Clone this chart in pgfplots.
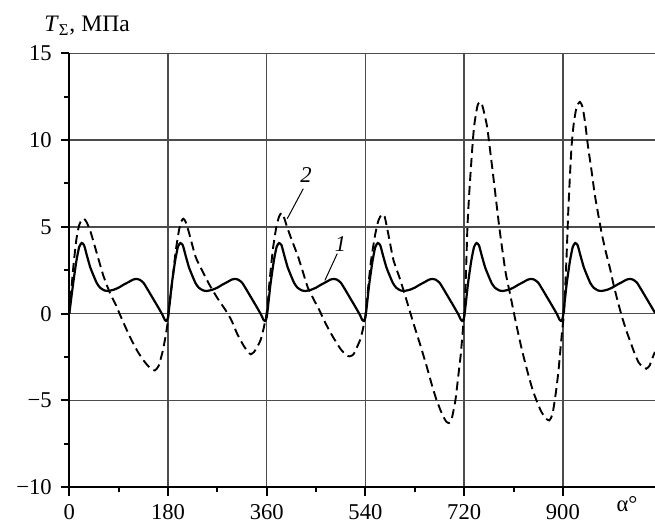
\documentclass[border=0pt]{standalone}
\usepackage{fontspec}
\setmainfont{Liberation Serif}
\usepackage{pgfplots}
\pgfplotsset{compat=1.18}

\begin{document}
\begin{tikzpicture}
\begin{axis}[
    scale only axis,
    width=292.85pt, height=217pt,
    xmin=0, xmax=1068, ymin=-10, ymax=15,
    axis x line=bottom, axis y line=left,
    axis line style={-, line width=1pt, black},
    xtick={0,180,...,900},
    ytick={-10,-5,0,5,10,15},
    yticklabels={−10,−5,0,5,10,15},
    minor x tick num=1, minor y tick num=1,
    tick align=outside,
    major tick length=4.3pt, minor tick length=2.6pt,
    every tick/.style={black, line width=1pt},
    grid=major,
    major grid style={black!70, line width=0.75pt},
    /pgf/number format/assume math mode=true,
    every tick label/.append style={font=\fontsize{11.3}{13}\selectfont},
    yticklabel style={xshift=-1pt},
    xticklabel style={yshift=-1pt},
    extra x ticks={1017},
    extra x tick labels={α°},
    extra x tick style={grid=none, major tick length=0pt},
    clip=true,
]

% curve 1 (solid)
\addplot[black, line width=1.1pt, smooth, tension=0.35] coordinates {
(0,0) (7,1.73) (13,3.05) (18,3.84) (22.5,4.07) (27,3.94) (32,3.36) (38,2.69) (44,2.21) (50,1.77) (56,1.50) (64,1.34) (71,1.31) (81,1.38) (90,1.50) (99,1.67) (108,1.82) (116,1.96) (122,2.0) (128,1.96) (135,1.79) (142,1.44) (151,0.96) (160,0.48) (169.5,-0.04) (174,-0.35) (177.5,-0.42)
(180,-0.2) (182,0.3) (187,1.73) (193,3.05) (198,3.84) (202.5,4.07) (207,3.94) (212,3.36) (218,2.69) (224,2.21) (230,1.77) (236,1.50) (244,1.34) (251,1.31) (261,1.38) (270,1.50) (279,1.67) (288,1.82) (296,1.96) (302,2.0) (308,1.96) (315,1.79) (322,1.44) (331,0.96) (340,0.48) (349.5,-0.04) (354,-0.35) (357.5,-0.42)
(360,-0.2) (362,0.3) (367,1.73) (373,3.05) (378,3.84) (382.5,4.07) (387,3.94) (392,3.36) (398,2.69) (404,2.21) (410,1.77) (416,1.50) (424,1.34) (431,1.31) (441,1.38) (450,1.50) (459,1.67) (468,1.82) (476,1.96) (482,2.0) (488,1.96) (495,1.79) (502,1.44) (511,0.96) (520,0.48) (529.5,-0.04) (534,-0.35) (537.5,-0.42)
(540,-0.2) (542,0.3) (547,1.73) (553,3.05) (558,3.84) (562.5,4.07) (567,3.94) (572,3.36) (578,2.69) (584,2.21) (590,1.77) (596,1.50) (604,1.34) (611,1.31) (621,1.38) (630,1.50) (639,1.67) (648,1.82) (656,1.96) (662,2.0) (668,1.96) (675,1.79) (682,1.44) (691,0.96) (700,0.48) (709.5,-0.04) (714,-0.35) (717.5,-0.42)
(720,-0.2) (722,0.3) (727,1.73) (733,3.05) (738,3.84) (742.5,4.07) (747,3.94) (752,3.36) (758,2.69) (764,2.21) (770,1.77) (776,1.50) (784,1.34) (791,1.31) (801,1.38) (810,1.50) (819,1.67) (828,1.82) (836,1.96) (842,2.0) (848,1.96) (855,1.79) (862,1.44) (871,0.96) (880,0.48) (889.5,-0.04) (894,-0.35) (897.5,-0.42)
(900,-0.2) (902,0.3) (907,1.73) (913,3.05) (918,3.84) (922.5,4.07) (927,3.94) (932,3.36) (938,2.69) (944,2.21) (950,1.77) (956,1.50) (964,1.34) (971,1.31) (981,1.38) (990,1.50) (999,1.67) (1008,1.82) (1016,1.96) (1022,2.0) (1028,1.96) (1035,1.79) (1042,1.44) (1051,0.96) (1060,0.48) (1068,0.05)
};

% curve 2 (dashed)
\addplot[black, line width=0.95pt, dash pattern=on 4.5pt off 2.5pt, smooth, tension=0.35] coordinates {
(0,0) (4,1.5) (8,2.9) (13,4.3) (18,5.1) (23,5.42) (27,5.47) (31,5.3) (38,4.8) (50,3.5) (62,2.2) (74,1.2) (85,0.5) (93,-0.1) (110,-1.3) (125,-2.2) (138,-2.8) (148,-3.15) (156,-3.27) (163,-3.0) (170,-2.2) (175,-1.4) (179,-0.6) (183,0.6)
(188,1.9) (194,3.6) (200,4.8) (204,5.3) (208,5.47) (212,5.3) (218,4.7) (230,3.3) (242,2.5) (255,1.7) (270,0.9) (285,0.2) (296,-0.4) (306,-1.15) (318,-1.85) (326,-2.2) (331,-2.34) (337,-2.2) (343,-1.9) (349,-1.5) (354,-0.9) (358,-0.3) (361,0.3)
(365,1.8) (371,3.65) (377,4.9) (382,5.55) (386.5,5.8) (391,5.6) (397,5.0) (405,4.3) (417,3.3) (426,2.4) (435,1.5) (446,0.8) (456,0.2) (468,-0.6) (481,-1.35) (495,-2.05) (505,-2.38) (511,-2.46) (518,-2.35) (525,-1.9) (531,-1.45) (536,-0.8) (540,-0.1)
(544,1.2) (550,3.0) (558,4.6) (564,5.4) (570,5.72) (575,5.6) (581,4.7) (591,3.1) (603,2.0) (615,0.77) (628,-0.6) (640,-1.8) (652,-3.07) (662,-4.2) (670,-5.0) (680,-5.8) (687,-6.2) (692,-6.3) (697,-6.1) (704,-5.0) (710,-3.4) (714,-2.3) (718,-0.8) (721,0.3)
(724,3.0) (726,5.0) (729,6.8) (732,8.25) (735,9.6) (738,10.75) (742,11.6) (745,12.05) (749,12.2) (753,12.0) (757,11.5) (762,10.75) (767,9.5) (772,8.2) (778,6.6) (784,5.0) (790,3.6) (796,2.3) (804,1.1) (811,0.0) (819,-1.2) (827,-2.3) (836,-3.4) (845,-4.4) (852,-5.0) (860,-5.6) (868,-6.0) (875,-6.15) (881,-5.8) (887,-4.6) (892,-3.3) (896,-1.9) (899,-0.9) (902,0.0)
(905,2.0) (907,3.5) (910,6.0) (913,8.0) (916,9.7) (920,11.0) (925,11.9) (931,12.2) (936,11.9) (941,10.9) (946,9.6) (952,8.3) (958,6.9) (964,5.8) (971,4.6) (978,3.6) (986,2.6) (993,1.6) (1001,0.6) (1008,-0.2) (1016,-1.0) (1024,-1.7) (1031,-2.3) (1038,-2.8) (1045,-3.05) (1052,-3.17) (1058,-3.0) (1064,-2.5) (1068,-2.2)
};

% curve labels with leader lines
\draw[black, line width=0.5pt] (axis cs:426.6,7.2) -- (axis cs:397.4,5.47);
\node[font=\fontsize{11.3}{13}\selectfont\itshape] at (axis cs:431.5,7.97) {2};
\draw[black, line width=0.5pt] (axis cs:488.6,3.46) -- (axis cs:466.1,1.92);
\node[font=\fontsize{11.3}{13}\selectfont\itshape] at (axis cs:494.8,4.03) {1};
\end{axis}

\node[anchor=base west, font=\fontsize{11.8}{13}\selectfont]
    at ([xshift=-16pt, yshift=10.8pt]current axis.north west)
    {\textit{T}\textsubscript{Σ}, МПа};

\pgfresetboundingbox
\path ([xshift=-34.65pt, yshift=-17.35pt]current axis.south west)
    rectangle ([yshift=26.65pt]current axis.north east);
\end{tikzpicture}
\end{document}
